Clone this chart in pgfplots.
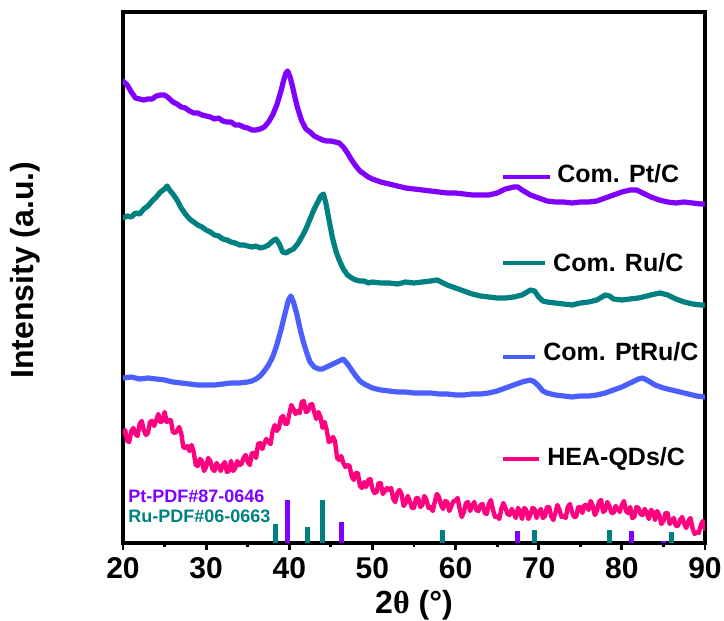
\documentclass[border=0pt]{standalone}
\usepackage{pgfplots}
\pgfplotsset{compat=1.18}
\usepackage{fontspec}
\setmainfont{Liberation Sans}
\newfontfamily\serifgreek{Liberation Serif}
\definecolor{cpt}{RGB}{128,0,255}
\definecolor{cru}{RGB}{0,128,128}
\definecolor{cptru}{RGB}{75,95,255}
\definecolor{chea}{RGB}{255,0,127}
\begin{document}
\begin{tikzpicture}
\useasboundingbox (-61.5pt,-39pt) rectangle (300.5pt,271.5pt);
\begin{axis}[
  at={(0,0)}, anchor=south west,
  scale only axis, width=291pt, height=265.5pt,
  xmin=20, xmax=90, ymin=0, ymax=531,
  xtick={20,30,...,90}, minor xtick={25,35,...,85},
  ytick=\empty,
  xtick pos=left,
  tick align=outside,
  axis line style={line width=1.6pt},
  every tick/.style={line width=1.4pt, black},
  major tick length=3.5pt, minor tick length=2pt,
  /pgf/number format/assume math mode=true,
  x tick label style={font=\fontsize{15}{15}\selectfont\bfseries},
  xlabel={2{\serifgreek θ} (°)},
  xlabel style={at={(axis description cs:0.5,-0.117)}, anchor=center, font=\fontsize{16}{16}\selectfont\bfseries},
  ylabel={Intensity (a.u.)},
  ylabel style={at={(axis description cs:-0.168,0.514)}, anchor=center, font=\fontsize{16}{16}\selectfont\bfseries},
  every axis plot/.append style={line join=round, line cap=round},
]
% reference sticks
\addplot[ycomb, cpt, line width=2.5pt, line cap=butt, no marks] coordinates {
(39.76,43) (46.24,21) (67.45,12) (81.2,12) (85.0,2)};
\addplot[ycomb, cru, line width=2.5pt, line cap=butt, no marks] coordinates {
(38.4,19) (42.2,16) (44.0,43) (58.4,13) (69.5,13) (78.5,13) (86.0,11)};

% Com. Pt/C
\addplot[cpt, line width=2.6pt, no marks] coordinates {
(20,462) (20.5,458) (21,451) (21.5,445) (22,444) (22.5,443) (23,444) (23.5,444) (24,447) (24.5,448)
(25,448) (25.5,445) (26,441) (26.5,439) (27,436) (27.5,435) (28,432) (28.5,430) (29,430) (29.5,428)
(30,427) (30.5,426) (31,424) (31.5,425) (32,422) (32.5,421) (33,421) (33.5,418) (34,418) (34.5,416)
(35,415) (35.5,413) (36,413) (36.5,414) (37,416) (37.5,421) (38,428) (38.5,438) (39,452) (39.3,462)
(39.6,470) (39.8,472) (40.1,466) (40.4,456) (40.7,445) (41,435) (41.5,422) (42,414) (42.5,411) (43,407)
(43.5,405) (44,403) (44.5,402) (45,402) (45.5,401) (46,400) (46.5,396) (47,390) (47.5,383) (48,377)
(48.5,372) (49,369) (49.5,366) (50,364) (51,361) (52,359) (53,357) (54,355) (55,354) (56,353)
(57,352) (58,351) (59,350) (60,350) (61,349) (62,348) (63,348) (64,348) (65,350) (66,354)
(67,356) (67.5,356) (68,353) (69,348) (70,345) (71,342) (72,341) (73,341) (74,340) (75,341)
(76,341) (77,342) (78,345) (79,348) (80,351) (81,353) (81.8,353) (82.5,350) (83.5,346) (84.5,343)
(85.5,341) (86.5,340) (87.5,341) (88.5,340) (89.5,339) (90,339)};

% Com. Ru/C
\addplot[cru, line width=2.6pt, no marks] coordinates {
(20,325) (20.5,327) (21,326) (21.5,330) (22,329) (22.5,334) (23,337) (23.5,342) (24,346) (24.5,351)
(25,354) (25.3,357) (25.6,353) (26,349) (26.5,343) (27,335) (27.5,329) (28,324) (28.5,321) (29,318)
(29.5,316) (30,313) (30.5,311) (31,308) (31.5,307) (32,304) (32.5,303) (33,301) (33.5,300) (34,298)
(34.5,298) (35,297) (35.5,296) (36,297) (36.5,295) (37,296) (37.5,298) (38,302) (38.4,304) (38.8,299)
(39.2,291) (39.6,290) (40,292) (40.5,294) (41,299) (41.5,306) (42,314) (42.5,324) (43,334) (43.5,342)
(43.8,347) (44.1,349) (44.4,340) (44.8,322) (45.2,305) (45.6,292) (46,283) (46.5,274) (47,268) (47.5,265)
(48,263) (48.5,262) (49,262) (49.5,260) (50,261) (51,260) (52,260) (53,259) (54,261) (55,260)
(56,261) (57,262) (57.8,263) (58.5,260) (59,258) (60,255) (61,252) (62,249) (63,247) (64,246)
(65,245) (66,245) (67,246) (68,248) (69,253) (69.5,252) (70,246) (70.5,242) (71,241) (72,240)
(73,239) (74,238) (75,240) (76,241) (77,243) (78,248) (78.5,247) (79,244) (80,243) (81,244)
(82,245) (83,247) (84,249) (84.6,250) (85.5,248) (86.5,244) (87.5,241) (88.5,239) (89.5,238) (90,238)};

% Com. PtRu/C
\addplot[cptru, line width=2.6pt, no marks] coordinates {
(20,165) (21,166) (22,164) (23,165) (24,164) (25,163) (26,161) (27,160) (28,159) (29,158)
(30,158) (31,158) (32,159) (33,160) (34,160) (35,161) (35.5,162) (36,164) (36.5,167) (37,172)
(37.5,178) (38,186) (38.5,198) (39,213) (39.5,230) (39.9,243) (40.2,247) (40.5,241) (40.9,229) (41.3,214)
(41.7,201) (42.1,190) (42.5,181) (43,176) (43.5,174) (44,174) (44.5,176) (45,178) (45.5,180) (46,182)
(46.5,184) (47,179) (47.5,173) (48,167) (48.5,162) (49,159) (49.5,157) (50,155) (51,153) (52,152)
(53,151) (54,151) (55,150) (56,150) (57,150) (58,149) (59,149) (60,148) (61,148) (62,149)
(63,149) (64,150) (65,152) (66,155) (67,158) (68,161) (69,163) (69.5,161) (70,157) (70.5,152)
(71,150) (72,148) (73,147) (74,146) (75,147) (76,147) (77,148) (78,150) (79,153) (80,156)
(81,160) (82,164) (82.5,165) (83,163) (84,158) (85,155) (86,153) (87,151) (88,149) (89,147) (90,146)};

% HEA-QDs/C
\addplot[chea, line width=2.2pt, no marks] coordinates {
(20,110) (20.25,113) (20.5,102) (20.75,101) (21,112) (21.25,115) (21.5,109) (21.75,107) (22,119) (22.25,122)
(22.5,113) (22.75,108) (23,110) (23.25,121) (23.5,122) (23.75,117) (24,123) (24.25,129) (24.5,121) (24.75,122)
(25,131) (25.25,121) (25.5,123) (25.75,123) (26,111) (26.25,110) (26.5,112) (26.75,116) (27,110) (27.25,96)
(27.5,95) (27.75,97) (28,92) (28.25,98) (28.5,91) (28.75,78) (29,77) (29.25,84) (29.5,82) (29.75,72)
(30,76) (30.25,85) (30.5,82) (30.75,74) (31,72) (31.25,80) (31.5,77) (31.75,72) (32,78) (32.25,81)
(32.5,71) (32.75,72) (33,82) (33.25,72) (33.5,75) (33.75,82) (34,78) (34.25,79) (34.5,85) (34.75,88)
(35,81) (35.25,78) (35.5,90) (35.75,90) (36,85) (36.25,99) (36.5,100) (36.75,94) (37,100) (37.25,104)
(37.5,101) (37.75,99) (38,112) (38.25,118) (38.5,112) (38.75,115) (39,125) (39.25,127) (39.5,119) (39.75,119)
(40,129) (40.25,138) (40.5,134) (40.75,129) (41,132) (41.25,130) (41.5,141) (41.75,142) (42,131) (42.25,132)
(42.5,138) (42.75,139) (43,131) (43.25,124) (43.5,131) (43.75,126) (44,115) (44.25,121) (44.5,113) (44.75,101)
(45,102) (45.25,106) (45.5,102) (45.75,85) (46,83) (46.25,87) (46.5,80) (46.75,76) (47,78) (47.25,77)
(47.5,67) (47.75,63) (48,70) (48.25,70) (48.5,57) (48.75,55) (49,61) (49.25,56) (49.5,63) (49.75,64)
(50,54) (50.25,50) (50.5,51) (50.75,60) (51,60) (51.25,49) (51.5,52) (51.75,55) (52,53) (52.25,55)
(52.5,44) (52.75,41) (53,50) (53.25,53) (53.5,49) (53.75,37) (54,40) (54.25,47) (54.5,42) (54.75,35)
(55,35) (55.25,45) (55.5,45) (55.75,36) (56,38) (56.25,47) (56.5,43) (56.75,35) (57,36) (57.25,32)
(57.5,41) (57.75,49) (58,46) (58.25,38) (58.5,34) (58.75,42) (59,41) (59.25,32) (59.5,37) (59.75,42)
(60,42) (60.25,45) (60.5,34) (60.75,26) (61,31) (61.25,40) (61.5,41) (61.75,32) (62,37) (62.25,41)
(62.5,33) (62.75,32) (63,38) (63.25,39) (63.5,30) (63.75,29) (64,39) (64.25,43) (64.5,33) (64.75,26)
(65,27) (65.25,24) (65.5,34) (65.75,40) (66,35) (66.25,29) (66.5,28) (66.75,34) (67,30) (67.25,25)
(67.5,35) (67.75,32) (68,24) (68.25,35) (68.5,33) (68.75,24) (69,28) (69.25,35) (69.5,34) (69.75,25)
(70,31) (70.25,34) (70.5,25) (70.75,27) (71,36) (71.25,36) (71.5,27) (71.75,23) (72,30) (72.25,38)
(72.5,33) (72.75,26) (73,27) (73.25,25) (73.5,36) (73.75,39) (74,31) (74.25,26) (74.5,26) (74.75,36)
(75,36) (75.25,30) (75.5,38) (75.75,38) (76,33) (76.25,42) (76.5,37) (76.75,28) (77,32) (77.25,41)
(77.5,43) (77.75,31) (78,33) (78.25,41) (78.5,37) (78.75,30) (79,30) (79.25,37) (79.5,34) (79.75,31)
(80,38) (80.25,42) (80.5,32) (80.75,30) (81,36) (81.25,25) (81.5,26) (81.75,36) (82,35) (82.25,29)
(82.5,28) (82.75,34) (83,30) (83.25,24) (83.5,33) (83.75,31) (84,23) (84.25,32) (84.5,28) (84.75,19)
(85,22) (85.25,30) (85.5,30) (85.75,19) (86,22) (86.25,25) (86.5,17) (86.75,17) (87,23) (87.25,26)
(87.5,19) (87.75,15) (88,22) (88.25,25) (88.5,15) (88.75,9) (89,11) (89.25,10) (89.5,18) (89.75,22) (90,14)};

% legend
\draw[cpt, line width=2pt] (axis cs:65.7,366) -- (axis cs:71.4,366);
\node[anchor=base west, inner sep=0pt, font=\fontsize{12.5}{12.5}\selectfont\bfseries] at (axis cs:72.2,360) {Com. Pt/C};
\draw[cru, line width=2pt] (axis cs:65.7,280) -- (axis cs:70.8,280);
\node[anchor=base west, inner sep=0pt, font=\fontsize{12.5}{12.5}\selectfont\bfseries] at (axis cs:71.7,271) {Com. Ru/C};
\draw[cptru, line width=2pt] (axis cs:65.7,186) -- (axis cs:69.6,186);
\node[anchor=base west, inner sep=0pt, font=\fontsize{12.5}{12.5}\selectfont\bfseries] at (axis cs:70.5,182) {Com. PtRu/C};
\draw[chea, line width=2pt] (axis cs:65.7,84) -- (axis cs:70.0,84);
\node[anchor=base west, inner sep=0pt, font=\fontsize{12.5}{12.5}\selectfont\bfseries] at (axis cs:71.0,77) {HEA-QDs/C};

\node[anchor=base west, inner sep=0pt, text=cpt, font=\fontsize{9}{9}\selectfont\bfseries] at (axis cs:20.6,40) {Pt-PDF\#87-0646};
\node[anchor=base west, inner sep=0pt, text=cru, font=\fontsize{9}{9}\selectfont\bfseries] at (axis cs:20.6,20) {Ru-PDF\#06-0663};
\end{axis}
\end{tikzpicture}
\end{document}
